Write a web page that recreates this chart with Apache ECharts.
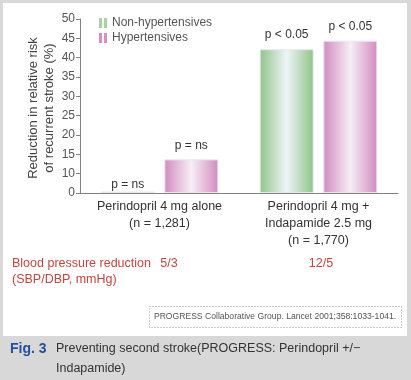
<!DOCTYPE html>
<html><head><meta charset="utf-8">
<script src="https://cdn.jsdelivr.net/npm/echarts@6/dist/echarts.min.js"></script>
<style>html,body{margin:0;padding:0;background:#d8d8d8}#c{width:411px;height:380px}</style>
</head><body><div id="c"></div>
<script>
// ---- data ----
const categories = ['Perindopril 4 mg alone\n(n = 1,281)', 'Perindopril 4 mg +\nIndapamide 2.5 mg\n(n = 1,770)'];
const seriesNames = ['Non-hypertensives', 'Hypertensives'];
const nonHypValues = [0.8, 42.2];
const hypValues = [13.7, 44.4];
const nonHypP = ['p = ns', 'p < 0.05'];
const hypP = ['p = ns', 'p < 0.05'];
const yTickLabels = ['0', '10', '15', '20', '25', '30', '35', '40', '45', '50'];
const bpReduction = ['5/3', '12/5'];

// broken axis in the original: the segment 0..10 occupies one 5-unit slot
function toAxis(v) { return v < 10 ? v / 2 : v - 5; }

const FONT = '"Liberation Sans", Arial, sans-serif';
function grad(edge, mid) {
  return new echarts.graphic.LinearGradient(0, 0, 1, 0, [
    {offset: 0, color: edge}, {offset: 0.5, color: mid}, {offset: 1, color: edge}
  ]);
}
const greenFill = grad('#8fc488', '#eef5f8');
const pinkFill = grad('#d28ac0', '#f7eef6');

function mkData(vals, labels, first) {
  return vals.map((v, i) => {
    const d = {value: toAxis(v), label: {formatter: labels[i]}};
    if (first && i === 0) d.label.distance = 1;
    return d;
  });
}

const chart = echarts.init(document.getElementById('c'), null, {renderer: 'canvas'});
chart.setOption({
  animation: false,
  backgroundColor: '#d8d8d8',
  graphic: [
    {type: 'rect', z: -10, shape: {x: 3, y: 3, width: 404, height: 333}, style: {fill: '#ffffff'}},
    {type: 'text', rotation: Math.PI / 2, x: 41, y: 108, style: {
      text: 'Reduction in relative risk\nof recurrent stroke (%)', font: '13px ' + FONT,
      fill: '#444', textAlign: 'center', textVerticalAlign: 'middle', lineHeight: 16}},
    {type: 'text', x: 12, y: 264, style: {text: 'Blood pressure reduction', font: '12.5px ' + FONT,
      fill: '#c3463e', textVerticalAlign: 'middle'}},
    {type: 'text', x: 12, y: 280, style: {text: '(SBP/DBP, mmHg)', font: '12.5px ' + FONT,
      fill: '#c3463e', textVerticalAlign: 'middle'}},
    {type: 'text', x: 169, y: 264, style: {text: bpReduction[0], font: '12.5px ' + FONT,
      fill: '#c3463e', textAlign: 'center', textVerticalAlign: 'middle'}},
    {type: 'text', x: 321, y: 264, style: {text: bpReduction[1], font: '12.5px ' + FONT,
      fill: '#c3463e', textAlign: 'center', textVerticalAlign: 'middle'}},
    {type: 'rect', shape: {x: 149.5, y: 306.5, width: 252, height: 21},
      style: {fill: 'none', stroke: '#9a9a9a', lineWidth: 1, lineDash: [1, 2]}},
    {type: 'text', x: 275, y: 317, style: {text: 'PROGRESS Collaborative Group. Lancet 2001;358:1033-1041.',
      font: '8.6px ' + FONT, fill: '#555', textAlign: 'center', textVerticalAlign: 'middle'}},
    {type: 'text', x: 10, y: 349, style: {text: 'Fig. 3', font: 'bold 14px ' + FONT,
      fill: '#23509e', textVerticalAlign: 'middle'}},
    {type: 'text', x: 56, y: 349, style: {text: 'Preventing second stroke(PROGRESS: Perindopril +/\u2212',
      font: '12.5px ' + FONT, fill: '#333', textVerticalAlign: 'middle'}},
    {type: 'text', x: 56, y: 369, style: {text: 'Indapamide)',
      font: '12.5px ' + FONT, fill: '#333', textVerticalAlign: 'middle'}}
  ],
  legend: {
    orient: 'vertical', left: 94, top: 12, itemGap: 3, itemWidth: 8, itemHeight: 10,
    icon: 'path://M0,0h3v10h-3z M5,0h3v10h-3z',
    textStyle: {fontFamily: FONT, fontSize: 12, color: '#555'},
    data: [
      {name: seriesNames[0], itemStyle: {color: '#a6d49e', borderWidth: 0}},
      {name: seriesNames[1], itemStyle: {color: '#d690c6', borderWidth: 0}}
    ]
  },
  grid: {left: 80, right: 13, top: 19, bottom: 187},
  xAxis: {
    type: 'category', data: categories,
    axisLine: {lineStyle: {color: '#808080', width: 1.2}},
    axisTick: {show: false},
    axisLabel: {interval: 0, fontFamily: FONT, fontSize: 12.5, color: '#333', lineHeight: 17, margin: 5}
  },
  yAxis: {
    type: 'value', min: 0, max: 45, interval: 5,
    axisLine: {show: true, lineStyle: {color: '#808080'}},
    axisTick: {show: true, length: 4, lineStyle: {color: '#808080'}},
    splitLine: {show: false},
    axisLabel: {fontFamily: FONT, fontSize: 12, color: '#555', margin: 5,
      formatter: v => yTickLabels[Math.round(v / 5)]}
  },
  series: [
    {name: seriesNames[0], type: 'bar', barGap: '18%', barCategoryGap: '26%',
      itemStyle: {color: greenFill, borderColor: '#e4ebf2', borderWidth: 1},
      label: {show: true, position: 'top', distance: 8, fontFamily: FONT, fontSize: 12, color: '#333'},
      data: mkData(nonHypValues, nonHypP, true)},
    {name: seriesNames[1], type: 'bar',
      itemStyle: {color: pinkFill, borderColor: '#e4ebf2', borderWidth: 1},
      label: {show: true, position: 'top', distance: 8, fontFamily: FONT, fontSize: 12, color: '#333'},
      data: mkData(hypValues, hypP, false)}
  ]
});
</script></body></html>
